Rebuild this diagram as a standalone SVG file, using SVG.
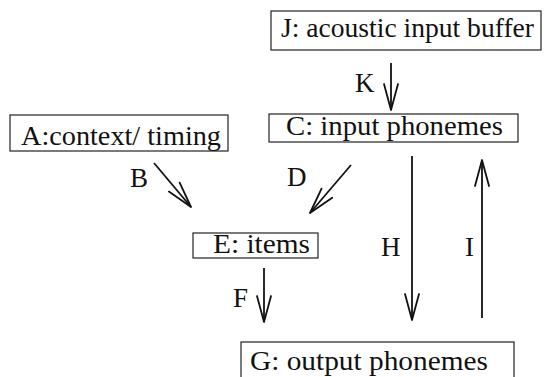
<svg xmlns="http://www.w3.org/2000/svg" width="548" height="377" viewBox="0 0 548 377">
<style>
.box{fill:#fff;stroke:#222;stroke-width:1.2}
.t{font-family:"Liberation Serif","Times New Roman",serif;font-size:27px;fill:#111}
.c{fill:none;stroke:#111;stroke-width:1.8;marker-end:url(#v)}
</style>
<defs>
<marker id="v" markerUnits="userSpaceOnUse" viewBox="-30 -10 32 20" refX="0" refY="0" markerWidth="32" markerHeight="20" orient="auto">
<path d="M-26,-7 L0,0 L-26,7" fill="none" stroke="#111" stroke-width="1.8" stroke-linejoin="round" stroke-linecap="round"/>
</marker>
</defs>
<rect width="548" height="377" fill="#fff"/>
<g id="J"><rect class="box" x="271" y="11" width="270" height="39"/><text class="t" x="281" y="37" textLength="253" lengthAdjust="spacingAndGlyphs">J: acoustic input buffer</text></g>
<g id="A"><rect class="box" x="10" y="115" width="218" height="36"/><text class="t" x="21" y="145" textLength="200" lengthAdjust="spacingAndGlyphs">A:context/ timing</text></g>
<g id="C"><rect class="box" x="269" y="114" width="249" height="28"/><text class="t" x="286" y="135" textLength="217" lengthAdjust="spacingAndGlyphs">C: input phonemes</text></g>
<g id="E"><rect class="box" x="193" y="233" width="125" height="25"/><text class="t" x="213" y="253" textLength="97" lengthAdjust="spacingAndGlyphs">E: items</text></g>
<g id="G"><rect class="box" x="241" y="342" width="273" height="45"/><text class="t" x="250" y="370" textLength="238" lengthAdjust="spacingAndGlyphs">G: output phonemes</text></g>
<g id="connectors">
<line class="c" x1="391" y1="63" x2="391" y2="110"/>
<line class="c" x1="154" y1="163" x2="191" y2="207"/>
<line class="c" x1="351" y1="165" x2="310" y2="213"/>
<line class="c" x1="264" y1="268" x2="264" y2="322"/>
<line class="c" x1="412" y1="156" x2="412" y2="320"/>
<line class="c" x1="482" y1="318" x2="482" y2="160"/>
<text class="t" x="355" y="92">K</text>
<text class="t" x="130" y="187">B</text>
<text class="t" x="287" y="186">D</text>
<text class="t" x="381" y="256">H</text>
<text class="t" x="465" y="256">I</text>
<text class="t" x="233" y="307">F</text>
</g>
</svg>
